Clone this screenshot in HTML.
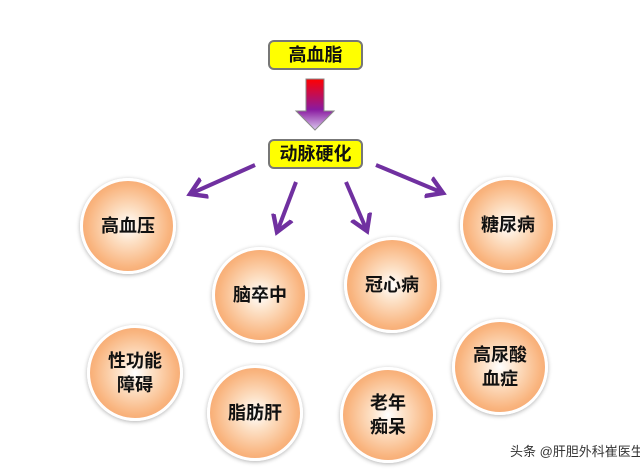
<!DOCTYPE html><html><head><meta charset="utf-8"><style>
body{margin:0;width:640px;height:471px;background:#fff;position:relative;overflow:hidden;font-family:"Liberation Sans","Noto Sans CJK SC",sans-serif}
.box{position:absolute;left:268px;width:95px;height:30px;background:#ffff00;border:2px solid #777;border-radius:6px;box-sizing:border-box;font-weight:bold;font-size:18px;text-align:center;line-height:26px;color:#111}
.c{position:absolute;width:96px;height:96px;border-radius:50%;background:radial-gradient(circle at 50% 50%,#fff 0%,#fde2c8 25%,#f9b47e 65%,#f3935a 100%);border:3px solid #fff;box-shadow:0 1px 4px rgba(0,0,0,.3);box-sizing:border-box;display:flex;align-items:center;justify-content:center;text-align:center;font-weight:bold;font-size:18px;line-height:24px;color:#111}
</style></head><body>
<div class="box" style="top:40px">高血脂</div>
<div class="box" style="top:139px">动脉硬化</div>
<svg width="640" height="471" style="position:absolute;left:0;top:0">
<defs><linearGradient id="g" x1="0" y1="0" x2="0" y2="1"><stop offset="0" stop-color="#ff0000"/><stop offset="0.6" stop-color="#8a1aa0"/><stop offset="1" stop-color="#d9c8ee"/></linearGradient>
<marker id="a" markerWidth="6" markerHeight="6" refX="4" refY="3" orient="auto" markerUnits="strokeWidth"><path d="M0,0.5 L4,3 L0,5.5" fill="none" stroke="#7030a0" stroke-width="1.1"/></marker></defs>
<path d="M306,79 H324 V111 H334 L315,130 L296,111 H306 Z" fill="url(#g)" stroke="#888" stroke-width="1"/>
<g stroke="#7030a0" stroke-width="4" fill="none" marker-end="url(#a)">
<line x1="255" y1="165" x2="190" y2="194"/>
<line x1="296" y1="182" x2="277" y2="232"/>
<line x1="346" y1="182" x2="367" y2="231"/>
<line x1="376" y1="165" x2="443" y2="193"/>
</g></svg>
<div class="c" style="left:80px;top:178px">高血压</div>
<div class="c" style="left:212px;top:247px">脑卒中</div>
<div class="c" style="left:344px;top:237px">冠心病</div>
<div class="c" style="left:460px;top:177px">糖尿病</div>
<div class="c" style="left:87px;top:325px">性功能<br>障碍</div>
<div class="c" style="left:207px;top:365px">脂肪肝</div>
<div class="c" style="left:340px;top:367px">老年<br>痴呆</div>
<div class="c" style="left:452px;top:319px">高尿酸<br>血症</div>
<div style="position:absolute;left:510px;top:441px;font-size:13px;color:#333;white-space:nowrap">头条 @肝胆外科崔医生</div>
</body></html>
